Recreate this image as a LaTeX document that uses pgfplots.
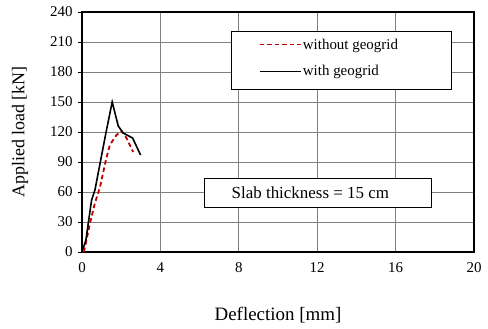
\documentclass[border=0pt]{standalone}
\usepackage{fontspec}
\setmainfont{Liberation Serif}
\usepackage{pgfplots}
\pgfplotsset{compat=1.18}
\usetikzlibrary{calc}

\definecolor{curvered}{RGB}{192,0,0}
\definecolor{gridgray}{RGB}{128,128,128}

\begin{document}
\begin{tikzpicture}
\begin{axis}[
  scale only axis,
  width=392bp, height=240bp,
  xmin=0, xmax=20, ymin=0, ymax=240,
  xtick={0,4,...,20}, ytick={0,30,...,240},
  xtick pos=bottom, ytick pos=left,
  tick align=outside,
  major tick length=4bp,
  x tick style={draw=none},
  y tick style={black, line width=0.8bp},
  grid=major,
  major grid style={gridgray, line width=0.8bp},
  axis line style={black, line width=1.6bp},
  /pgf/number format/assume math mode=true,
  tick label style={font=\fontsize{15}{18}\selectfont},
  xticklabel style={yshift=-3bp},
  yticklabel style={xshift=-2bp},
  xlabel={Deflection [mm]},
  ylabel={Applied load [kN]},
  xlabel style={font=\fontsize{19}{22}\selectfont, at={(axis description cs:0.5,-0.2625)}, anchor=center},
  ylabel style={font=\fontsize{18}{21}\selectfont, at={(axis description cs:-0.158,0.5)}, anchor=center},
  legend image code/.code={\draw[#1] (0bp,0bp) -- (41bp,0bp);},
  legend style={draw=none, fill=none, at={(axis cs:8.85,194)}, anchor=west,
    font=\fontsize{15}{18}\selectfont, row sep=12bp,
    nodes={inner sep=1.5bp}},
  legend cell align=left,
]
% bounding corners of the plot area
\coordinate (bl) at (rel axis cs:0,0);
\coordinate (tr) at (rel axis cs:1,1);

% frames behind the legend and the annotation
\draw[black, line width=0.8bp, fill=white] (axis cs:7.63,221) rectangle (axis cs:18.83,163);
\draw[black, line width=0.8bp, fill=white] (axis cs:6.26,74) rectangle (axis cs:17.81,45);
\node[font=\fontsize{17}{20}\selectfont] at (axis cs:11.65,59.5) {Slab thickness = 15 cm};

\addplot[curvered, line width=1.8bp, dash pattern=on 4.5bp off 3bp] coordinates {
  (0.10,0) (0.41,29) (0.66,49) (0.92,65) (1.22,92) (1.42,107)
  (1.76,117) (2.02,121) (2.27,114) (2.61,100)
};
\addlegendentry{without geogrid}

\addplot[black, line width=1.6bp] coordinates {
  (0,0) (0.20,12) (0.49,52) (0.66,62) (1.22,119) (1.54,150)
  (1.85,126) (2.10,119) (2.58,114) (2.99,97)
};
\addlegendentry{with geogrid}
\end{axis}
\pgfresetboundingbox
\path ($(bl)+(-82bp,-77bp)$) rectangle ($(tr)+(14bp,12bp)$);
\end{tikzpicture}
\end{document}
